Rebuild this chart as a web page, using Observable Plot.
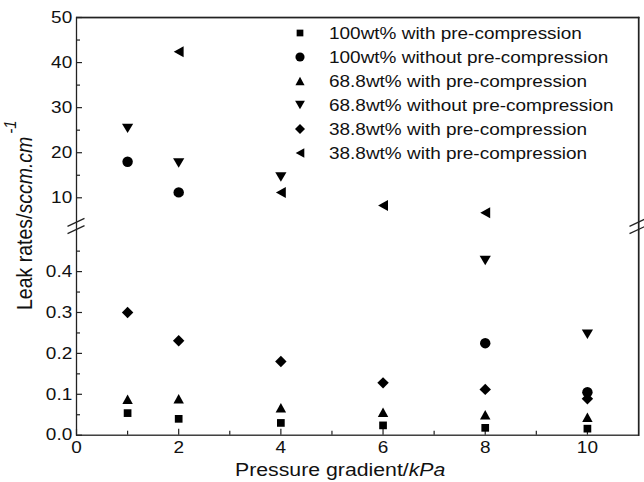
<!DOCTYPE html>
<html><head><meta charset="utf-8">
<script src="https://cdn.jsdelivr.net/npm/d3@7"></script>
<script src="https://cdn.jsdelivr.net/npm/@observablehq/plot@0.6"></script>
<style>
html,body{margin:0;padding:0;background:#fff;overflow:hidden;}
#chart{position:relative;width:644px;height:482px;}
</style></head><body><div id="chart"></div>
<script>
// ---- data ----
const pressure = [1, 2, 4, 6, 8, 10];
const seriesNames = [
  "100wt% with pre-compression",
  "100wt% without pre-compression",
  "68.8wt% with pre-compression",
  "68.8wt% without pre-compression",
  "38.8wt% with pre-compression",
  "38.8wt% with pre-compression"
];
const s100with     = [0.054, 0.040, 0.030, 0.024, 0.018, 0.016];
const s100without  = [18.0, 11.2, null, null, 0.225, 0.105];
const s688with     = [0.088, 0.089, 0.067, 0.056, 0.050, 0.044];
const s688without  = [25.4, 17.7, 14.6, null, 0.427, 0.247];
const s388with     = [0.300, 0.231, 0.180, 0.128, 0.112, 0.089];
const s388second   = [null, 42.4, 11.2, 8.3, 6.7, null];

const xMajor = [0, 2, 4, 6, 8, 10];
const xMinor = [1, 3, 5, 7, 9];
const xDomain = [0, 11];
const yMajorLow = [0, 0.1, 0.2, 0.3, 0.4];
const yMajorLowLabels = ["0.0", "0.1", "0.2", "0.3", "0.4"];
const yMinorLow = [0.05, 0.15, 0.25, 0.35, 0.45];
const yMajorHigh = [10, 20, 30, 40, 50];
const yMajorHighLabels = ["10", "20", "30", "40", "50"];
const yMinorHigh = [15, 25, 35, 45];

// ---- broken axis: map a value to a position on one continuous display scale ----
const f = v => v <= 0.5 ? v * 409 : 237.4 + (v - 10) * 4.507;
const yDomain = [0, f(50)];

// ---- symbols ----
const mk = (fn) => ({draw(ctx, size) { fn(ctx, Math.sqrt(size / Math.PI)); }});
const symSquare = mk((c, r) => { const h = r * 0.7; c.rect(-h, -h, 2 * h, 2 * h); });
const symCircle = mk((c, r) => { const h = r * 0.95; c.moveTo(h, 0); c.arc(0, 0, h, 0, 2 * Math.PI); });
const symUp = mk((c, r) => { const w = r * 0.95, h = r * 0.86; c.moveTo(0, -h); c.lineTo(w, h); c.lineTo(-w, h); c.closePath(); });
const symDown = mk((c, r) => { const w = r * 1.02, h = r * 0.86; c.moveTo(-w, -h); c.lineTo(w, -h); c.lineTo(0, h); c.closePath(); });
const symDiamond = mk((c, r) => { const h = r * 1.04; c.moveTo(0, -h); c.lineTo(h, 0); c.lineTo(0, h); c.lineTo(-h, 0); c.closePath(); });
const symLeft = mk((c, r) => { const w = r * 0.9, h = r * 1.0; c.moveTo(-w, 0); c.lineTo(w, -h); c.lineTo(w, h); c.closePath(); });

const seriesValues = [s100with, s100without, s688with, s688without, s388with, s388second];
const seriesSymbols = [symSquare, symCircle, symUp, symDown, symDiamond, symLeft];

const labelOf = new Map();
yMajorLow.forEach((v, i) => labelOf.set(f(v), yMajorLowLabels[i]));
yMajorHigh.forEach((v, i) => labelOf.set(f(v), yMajorHighLabels[i]));

const dotMarks = seriesValues.map((vals, k) => {
  const data = pressure.map((p, i) => ({p, v: vals[i]})).filter(d => d.v != null);
  return Plot.dot(data, {x: "p", y: d => f(d.v), r: 5.5, symbol: seriesSymbols[k], fill: "#000", stroke: "none"});
});

const ink = "#222";
const plot = Plot.plot({
  width: 644, height: 482,
  marginLeft: 76, marginRight: 6, marginTop: 17, marginBottom: 47.3,
  x: {domain: xDomain},
  y: {domain: yDomain},
  marks: [
    Plot.axisX(xMajor, {tickSize: -6, tickPadding: 12, label: null, stroke: ink, strokeWidth: 1.2, fill: "#111", tickFormat: d => String(d)}),
    Plot.axisX(xMinor, {tickSize: -4, tickPadding: 12, label: null, stroke: ink, strokeWidth: 1.2, tickFormat: () => ""}),
    Plot.axisY([...yMajorLow, ...yMajorHigh].map(f), {tickSize: -6, tickPadding: 10.3, label: null, stroke: ink, strokeWidth: 1.2, fill: "#111", tickFormat: d => labelOf.get(d)}),
    Plot.axisY([...yMinorLow, ...yMinorHigh].map(f), {tickSize: -4, tickPadding: 10.3, label: null, stroke: ink, strokeWidth: 1.2, tickFormat: () => ""}),
    ...dotMarks,
    Plot.frame({stroke: ink, strokeWidth: 1.3})
  ]
});
plot.setAttribute("font-family", "'Liberation Sans', Arial, sans-serif");
plot.setAttribute("font-size", "16.5");

// slight horizontal stretch of the text, as in the reference figure
d3.select(plot).selectAll("text").each(function () {
  const t = this.getAttribute("transform") || "";
  const x = this.getAttribute("x");
  let pre = "";
  if (x != null && !isNaN(+x)) { pre = `translate(${+x},0)`; this.removeAttribute("x"); }
  this.setAttribute("transform", `${t} ${pre} scale(1.15,1)`);
});

const svg = d3.select(plot);
const xs = plot.scale("x"), ys = plot.scale("y");

// top and right frame edges, drawn as thin filled bars from the scales
const xL = xs.apply(0), xR = xs.apply(11), yT = ys.apply(f(50)), yB = ys.apply(0);
const edges = svg.append("g").attr("fill", ink).attr("stroke", "none");
edges.append("rect").attr("x", xL).attr("y", yT - 0.2).attr("width", xR - xL + 1.5).attr("height", 1.5);
edges.append("rect").attr("x", xR).attr("y", yT - 0.2).attr("width", 1.5).attr("height", yB - yT + 1.5);

// axis break marks
const breakMid = (ys.apply(f(5)) + ys.apply(f(0.5))) / 2 + 1;
const brk = svg.append("g").attr("stroke", ink).attr("stroke-width", 1.3).attr("fill", "none");
for (const xv of xDomain) {
  const x0 = xs.apply(xv);
  for (const off of [-3.7, 3.7]) {
    brk.append("line")
      .attr("x1", x0 - 8.5).attr("y1", breakMid + off + 4)
      .attr("x2", x0 + 8.5).attr("y2", breakMid + off - 4);
  }
}

// legend
const leg = svg.append("g").attr("font-size", "16.5px").attr("fill", "#111").attr("text-anchor", "start");
seriesNames.forEach((name, i) => {
  const cy = 33 + 24 * i;
  const p = d3.path();
  seriesSymbols[i].draw(p, Math.PI * 4.8 * 4.8);
  leg.append("path").attr("d", p.toString()).attr("transform", `translate(300,${cy})`).attr("fill", "#000");
  leg.append("text").attr("transform", `translate(329,${cy}) scale(1.15,1)`).attr("dy", "0.35em").text(name);
});

// axis titles
const xt = svg.append("text").attr("text-anchor", "start").attr("transform", "translate(235,476) scale(1.15,1)").attr("font-size", "18.5px").attr("fill", "#111");
xt.append("tspan").text("Pressure gradient/");
xt.append("tspan").attr("font-style", "italic").text("kPa");

const yt = svg.append("text").attr("text-anchor", "start").attr("transform", "translate(32,310) rotate(-90) scale(1,1.15)").attr("font-size", "19.5px").attr("fill", "#111");
yt.append("tspan").text("Leak rates/");
yt.append("tspan").attr("font-style", "italic").text("sccm.cm");
yt.append("tspan").attr("font-style", "italic").attr("font-size", "15px").attr("dx", "3").attr("dy", "-14").text("-1");

plot.style.position = "absolute";
plot.style.left = "0px";
plot.style.top = "0px";
plot.style.display = "block";
document.getElementById("chart").appendChild(plot);
</script></body></html>
